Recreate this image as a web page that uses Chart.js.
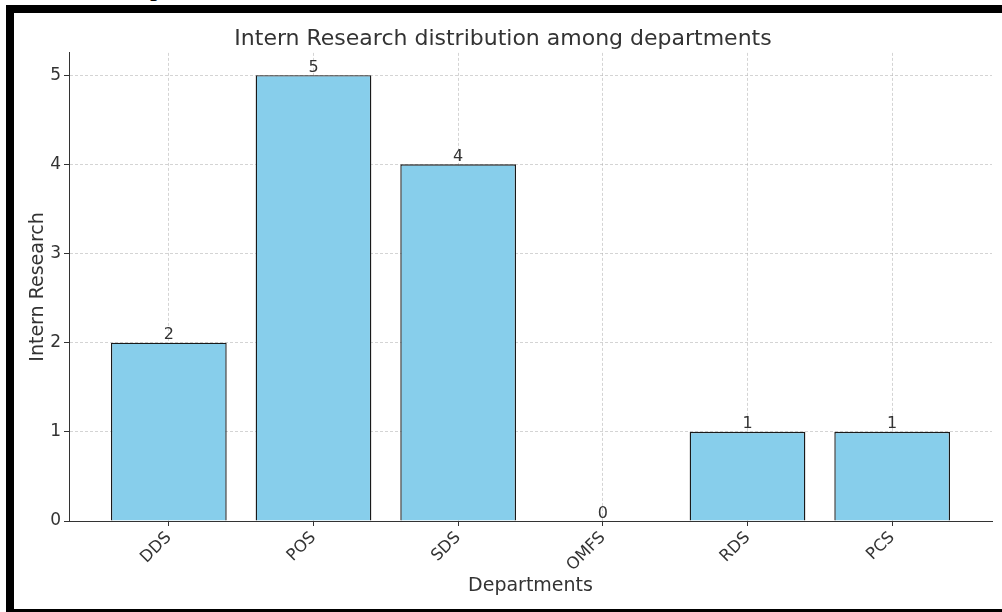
<!DOCTYPE html>
<html>
<head>
<meta charset="utf-8">
<script src="https://cdn.jsdelivr.net/npm/chart.js@4.4.0/dist/chart.umd.min.js"></script>
<style>
  html, body { margin: 0; padding: 0; width: 1002px; height: 612px; overflow: hidden; background: #fff; }
  #cut { position: absolute; left: 150px; top: -28px; font: 28px "Liberation Serif"; line-height: 28px; color: #000; }
  #frame { position: absolute; left: 6px; top: 5px; width: 1100px; height: 596px; border: 8px solid #000; background: #fff; }
  #frame canvas { position: absolute; left: 0; top: 0; }
</style>
</head>
<body>
<div id="cut">p</div>
<div id="frame"><canvas id="chart" width="988" height="596"></canvas></div>
<script>
// ------------------------------
// Data
// ------------------------------
const departments = ["DDS", "POS", "SDS", "OMFS", "RDS", "PCS"];
const internResearch = [2, 5, 4, 0, 1, 1];
const yTicks = [0, 1, 2, 3, 4, 5];

const FONT = "'DejaVu Sans', sans-serif";
const TEXT = "#333";
const GRID = "rgba(176,176,176,0.55)";

const xIndex = departments.map((_, i) => i);

// value labels on top of each bar
const valueLabels = {
  id: "valueLabels",
  afterDraw(chart) {
    const { ctx } = chart;
    const meta = chart.getDatasetMeta(0);
    ctx.save();
    ctx.font = "16px " + FONT;
    ctx.fillStyle = TEXT;
    ctx.textAlign = "center";
    ctx.textBaseline = "alphabetic";
    meta.data.forEach((bar, i) => {
      ctx.fillText(String(internResearch[i]), bar.x, bar.y - 3.5);
    });
    ctx.restore();
  }
};

new Chart(document.getElementById("chart"), {
  type: "bar",
  data: {
    datasets: [{
      data: xIndex.map(i => ({ x: i, y: internResearch[i] })),
      backgroundColor: "#87CEEB",
      borderColor: "#1a1a1a",
      borderWidth: 1.4,
      borderSkipped: "start",
      barPercentage: 0.8,
      categoryPercentage: 1
    }]
  },
  options: {
    responsive: false,
    animation: false,
    layout: { padding: { left: 0, right: 10, top: 0, bottom: 0 } },
    plugins: {
      legend: { display: false },
      tooltip: { enabled: false },
      title: {
        display: true,
        text: "Intern Research distribution among departments",
        color: TEXT,
        font: { family: FONT, size: 22, weight: "normal" },
        padding: { top: 13, bottom: 0.5 }
      }
    },
    scales: {
      x: {
        type: "linear",
        min: -0.69,
        max: 5.69,
        offset: false,
        z: 1,
        afterBuildTicks: s => { s.ticks = xIndex.map(v => ({ value: v })); },
        afterFit: s => { s.height = 88; },
        ticks: {
          callback: v => departments[v],
          autoSkip: false,
          minRotation: 45,
          maxRotation: 45,
          color: TEXT,
          padding: 2,
          font: { family: FONT, size: 16.5 }
        },
        grid: {
          offset: false,
          color: GRID,
          lineWidth: 1,
          tickColor: "#333",
          tickWidth: 1,
          tickLength: 5,
          tickBorderDash: []
        },
        border: { color: "#333", width: 1, dash: [3, 2] },
        title: {
          display: true,
          text: "Departments",
          color: TEXT,
          font: { family: FONT, size: 19 },
          padding: { top: 0, bottom: 11.6 }
        }
      },
      y: {
        min: 0,
        max: 5.25,
        z: 1,
        afterBuildTicks: s => { s.ticks = yTicks.map(v => ({ value: v })); },
        afterFit: s => { s.width = 55; },
        ticks: {
          color: TEXT,
          padding: 3,
          font: { family: FONT, size: 17 }
        },
        grid: {
          color: GRID,
          lineWidth: 1,
          tickColor: "#333",
          tickWidth: 1,
          tickLength: 5,
          tickBorderDash: []
        },
        border: { color: "#333", width: 1, dash: [3, 2] },
        title: {
          display: true,
          text: "Intern Research",
          color: TEXT,
          font: { family: FONT, size: 19 },
          padding: { top: 12.6, bottom: 0 }
        }
      }
    }
  },
  plugins: [valueLabels]
});
</script>
</body>
</html>
